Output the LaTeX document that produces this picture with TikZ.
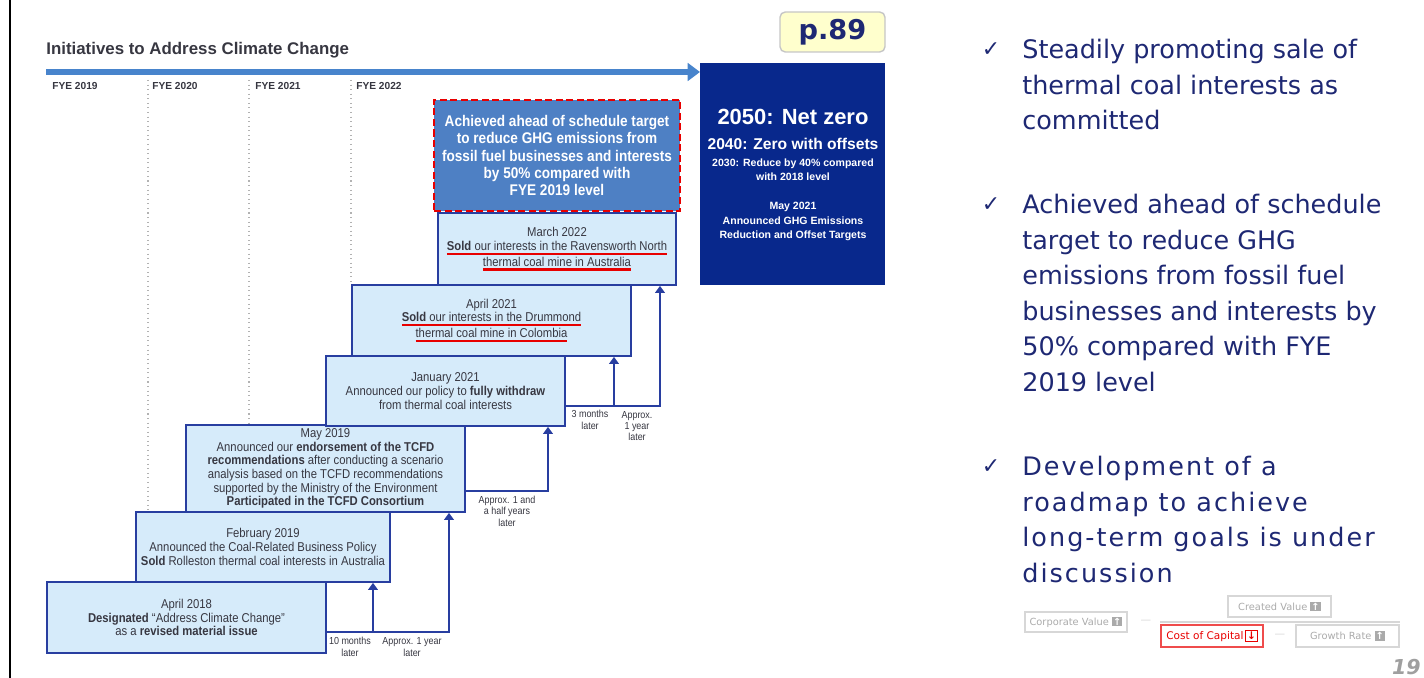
\documentclass[tikz,border=0pt]{standalone}
\usepackage{fontspec}
\setmainfont{Liberation Sans}
\newfontfamily\narrowfont{Liberation Sans}[FakeStretch=0.88]
\newfontfamily\bulletfont{DejaVu Sans}
\newfontfamily\widebullet{DejaVu Sans}[LetterSpace=8]
\usetikzlibrary{arrows.meta,positioning}

\definecolor{navytext}{RGB}{30,40,115}
\definecolor{evfill}{RGB}{214,235,250}
\definecolor{evedge}{RGB}{40,62,160}
\definecolor{goalblue}{RGB}{78,128,196}
\definecolor{targetblue}{RGB}{8,40,140}
\definecolor{timeblue}{RGB}{72,132,204}
\definecolor{hilite}{RGB}{232,0,0}
\definecolor{inkgray}{RGB}{55,55,65}
\definecolor{fadetext}{RGB}{170,170,170}
\definecolor{fadeedge}{RGB}{215,215,215}
\definecolor{notefill}{RGB}{255,255,205}

\setlength\fboxsep{0.6pt}
\newcommand\redul[1]{\setbox0\hbox{#1}\rlap{\color{hilite}\rule[-2.6pt]{\wd0}{1.3pt}}\box0}
\newcommand\upicon{\colorbox{fadetext}{\textcolor{white}{\bfseries ↑}}}
\newcommand\downicon{\fcolorbox{hilite}{white}{\textcolor{hilite}{\bfseries ↓}}}

\tikzset{x=0.02cm, y=-0.02cm,
  evbox/.style 2 args={draw=evedge, fill=evfill, line width=1pt,
    minimum width=#1*0.02cm, minimum height=#2*0.02cm, inner sep=0pt,
    align=center, text=inkgray, font=\narrowfont\fontsize{7.3}{7.8}\selectfont},
  link/.style={draw=evedge, line width=1pt, -{Triangle[length=4pt,width=5.5pt]}},
  laterlabel/.style={align=center, inner sep=0pt, text=inkgray,
    font=\narrowfont\fontsize{5.8}{6.5}\selectfont},
  fyelabel/.style={anchor=west, inner sep=0pt, text=inkgray,
    font=\bfseries\fontsize{5.8}{7}\selectfont},
  fyeline/.style={draw=gray!60, line width=0.6pt, dotted},
  bullettext/.style={anchor=north west, inner sep=0pt, align=left, text=navytext,
    font=\bulletfont\fontsize{14.5}{20.2}\selectfont},
  checkmark/.style={inner sep=0pt, text=navytext, font=\bulletfont\bfseries\fontsize{12.5}{14}\selectfont},
  valbox/.style 2 args={draw=fadeedge, line width=0.7pt, minimum width=#1*0.02cm,
    minimum height=#2*0.02cm, inner sep=0pt, text=fadetext,
    font=\bulletfont\fontsize{5.6}{6}\selectfont},
  goaltext/.style={inner sep=0pt, align=center, text=white,
    font=\bfseries\fontsize{6}{8.2}\selectfont}
}

\begin{document}
\begin{tikzpicture}
\useasboundingbox (0,0) rectangle (1424,678);
\draw[line width=1.7pt] (10,0) -- (10,678);

\node (title) [anchor=base west, inner sep=0pt, text=inkgray,
  font=\bfseries\fontsize{9.6}{11}\selectfont] at (46,55) {Initiatives to Address Climate Change};
\coordinate (tstart) at (46,72);
\coordinate (tend) at (700,72);
\draw[draw=timeblue, line width=3.4pt, -{Triangle[length=7pt,width=10pt]}] (tstart) -- (tend);
\foreach \yr/\xx in {2019/52, 2020/152, 2021/255, 2022/356}
  \node (fye\yr) [fyelabel] at (\xx,86) {FYE \yr};

\node (apr18) [evbox={279}{71}] at (186.5,617.5)
  {April 2018\\\textbf{Designated} “Address Climate Change”\\as a \textbf{revised material issue}};
\node (feb19) [evbox={254}{70}] at (263,547)
  {February 2019\\Announced the Coal-Related Business Policy\\\textbf{Sold} Rolleston thermal coal interests in Australia};
\node (may19) [evbox={279}{87}] at (325.5,468.5)
  {May 2019\\Announced our \textbf{endorsement of the TCFD}\\\textbf{recommendations} after conducting a scenario\\analysis based on the TCFD recommendations\\supported by the Ministry of the Environment\\\textbf{Participated in the TCFD Consortium}};
\node (jan21) [evbox={239}{70}] at (445.5,391)
  {January 2021\\Announced our policy to \textbf{fully withdraw}\\from thermal coal interests};
\node (apr21) [evbox={279}{71}] at (491.5,320.5)
  {April 2021\\\redul{\textbf{Sold} our interests in the Drummond}\\\redul{thermal coal mine in Colombia}};
\node (mar22) [evbox={238}{72}] at (557,249)
  {March 2022\\\redul{\textbf{Sold} our interests in the Ravensworth North}\\\redul{thermal coal mine in Australia}};
\node (achieved) [draw=hilite, fill=goalblue, line width=1.7pt, dash pattern=on 4pt off 2pt,
  minimum width=246*0.02cm, minimum height=111*0.02cm, inner sep=0pt, align=center, text=white,
  font=\narrowfont\bfseries\fontsize{8.8}{9.8}\selectfont] at (557,155.5)
  {Achieved ahead of schedule target\\to reduce GHG emissions from\\fossil fuel businesses and interests\\by 50\% compared with\\FYE 2019 level};

\draw[fyeline] (148,80) -- (148,0 |- feb19.north);
\draw[fyeline] (249,80) -- (249,0 |- may19.north);
\draw[fyeline] (351,80) -- (351,0 |- apr21.north);

\coordinate (fork1) at (373,632);
\coordinate (fork3) at (614,406);
\draw[link] (apr18.east |- fork1) -| (449,0 |- may19.south);
\draw[link] (fork1) -- (fork1 |- feb19.south);
\draw[link] (may19.east |- 0,491) -| (548,0 |- jan21.south);
\draw[link] (jan21.east |- fork3) -| (660,0 |- mar22.south);
\draw[link] (fork3) -- (fork3 |- apr21.south);

\node (lag1) [laterlabel] at (350,647) {10 months\\later};
\node (lag2) [laterlabel] at (412,647) {Approx. 1 year\\later};
\node (lag3) [laterlabel] at (507,511) {Approx. 1 and\\a half years\\later};
\node (lag4) [laterlabel] at (590,420) {3 months\\later};
\node (lag5) [laterlabel] at (637,426) {Approx.\\1 year\\later};

\node (netzero) [fill=targetblue, minimum width=185*0.02cm, minimum height=222*0.02cm,
  inner sep=0pt] at (792.5,174) {};
\node (net50) [goaltext, font=\bfseries\fontsize{12.5}{14}\selectfont] at (793,117) {2050: Net zero};
\node (net40) [goaltext, font=\bfseries\fontsize{8.9}{10}\selectfont] at (793,144) {2040: Zero with offsets};
\node (net30) [goaltext] at (793,170) {2030: Reduce by 40\% compared\\with 2018 level};
\node (may21) [goaltext] at (793,221.5) {May 2021\\Announced GHG Emissions\\Reduction and Offset Targets};

\node (pageref) [draw=gray!45, fill=notefill, rounded corners=3pt, line width=0.8pt,
  minimum width=105*0.02cm, minimum height=40*0.02cm, inner sep=0pt, text=navytext,
  font=\bulletfont\bfseries\fontsize{15.5}{16}\selectfont] at (832.5,32) {p.89};

\node (chk1) [checkmark] at (991,50) {✓};
\node (bul1) [bullettext] at (1022,39)
  {Steadily promoting sale of\\thermal coal interests as\\committed};
\node (chk2) [checkmark] at (991,205) {✓};
\node (bul2) [bullettext] at (1022,194)
  {Achieved ahead of schedule\\target to reduce GHG\\emissions from fossil fuel\\businesses and interests by\\50\% compared with FYE\\2019 level};
\node (chk3) [checkmark] at (991,467) {✓};
\node (bul3) [bullettext, font=\widebullet\fontsize{14.5}{20.2}\selectfont] at (1022,456)
  {Development of a\\roadmap to achieve\\long-term goals is under\\discussion};

\node (corpval) [valbox={102}{20}] at (1076,622) {Corporate Value \upicon};
\node (dashA) [inner sep=0pt, text=fadeedge, font=\bulletfont\fontsize{6}{6}\selectfont] at (1146,622) {—};
\node (createdval) [valbox={103}{21}] at (1279.5,606.5) {Created Value \upicon};
\node (costcap) [valbox={102}{22}, draw=hilite!70, text=hilite,
  font=\bulletfont\fontsize{6}{6}\selectfont] at (1212,636) {Cost of Capital\,\downicon};
\node (dashB) [inner sep=0pt, text=fadeedge, font=\bulletfont\fontsize{6}{6}\selectfont] at (1280,636) {—};
\node (growth) [valbox={103}{22}] at (1347.5,636) {Growth Rate \upicon};
\draw[draw=fadeedge, line width=0.7pt] (costcap.west |- 0,622) -- (growth.east |- 0,622);

\node (pageno) [anchor=base east, inner sep=0pt, text=gray!75,
  font=\bulletfont\bfseries\itshape\fontsize{11.7}{12}\selectfont] at (1421,675) {19};
\end{tikzpicture}
\end{document}
